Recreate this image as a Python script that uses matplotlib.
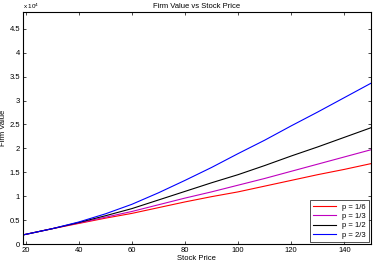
import matplotlib
matplotlib.use("Agg")
import matplotlib.pyplot as plt

plt.rcParams["font.family"] = ["Liberation Sans", "DejaVu Sans"]

stock_price = [19, 30, 40, 50, 60, 70, 80, 90, 100, 110, 120, 130, 140, 150]
# firm values in units of 1e4
p_1_6 = [0.19, 0.32, 0.43, 0.54, 0.64, 0.76, 0.88, 0.99, 1.09, 1.21, 1.33, 1.45, 1.56, 1.68]
p_1_3 = [0.19, 0.32, 0.44, 0.56, 0.68, 0.82, 0.96, 1.09, 1.23, 1.37, 1.52, 1.67, 1.82, 1.97]
p_1_2 = [0.19, 0.32, 0.45, 0.59, 0.74, 0.92, 1.10, 1.28, 1.45, 1.64, 1.84, 2.03, 2.23, 2.43]
p_2_3 = [0.19, 0.32, 0.46, 0.63, 0.83, 1.07, 1.33, 1.60, 1.89, 2.17, 2.47, 2.76, 3.06, 3.36]
labels = ["p = 1/6", "p = 1/3", "p = 1/2", "p = 2/3"]
colors = ["r", "m", "k", "b"]

fig = plt.figure(figsize=(3.75, 2.67), dpi=100)
ax = fig.add_axes([0.0613, 0.0861, 0.9277, 0.8689])

for ys, lab, c in zip([p_1_6, p_1_3, p_1_2, p_2_3], labels, colors):
    ax.plot(stock_price, [v * 1e4 for v in ys], color=c, lw=0.8, label=lab)

ax.set_xlim(19, 150)
ax.set_ylim(0, 4.85e4)
ax.set_xticks(range(20, 141, 20))
ax.set_yticks([i * 5000 for i in range(10)])
ax.set_yticklabels(["0", "0.5", "1", "1.5", "2", "2.5", "3", "3.5", "4", "4.5"])
ax.tick_params(direction="in", top=True, right=True, labelsize=5.5, length=2.5, width=0.5, pad=2)
for s in ax.spines.values():
    s.set_linewidth(0.8)
ax.text(0.0, 1.004, r"x 10$^4$", transform=ax.transAxes, fontsize=4.5, ha="left", va="bottom")

ax.set_title("Firm Value vs Stock Price", fontsize=5.5, pad=3)
ax.set_xlabel("Stock Price", fontsize=5.5, labelpad=1)
ax.set_ylabel("Firm Value", fontsize=5.5, labelpad=2)

leg = ax.legend(loc="lower right", fontsize=5.5, frameon=True, fancybox=False,
                edgecolor="k", borderaxespad=0.3, handlelength=3.0, labelspacing=0.25,
                borderpad=0.4)
leg.get_frame().set_linewidth(0.6)

fig.savefig("out.png", dpi=100)
